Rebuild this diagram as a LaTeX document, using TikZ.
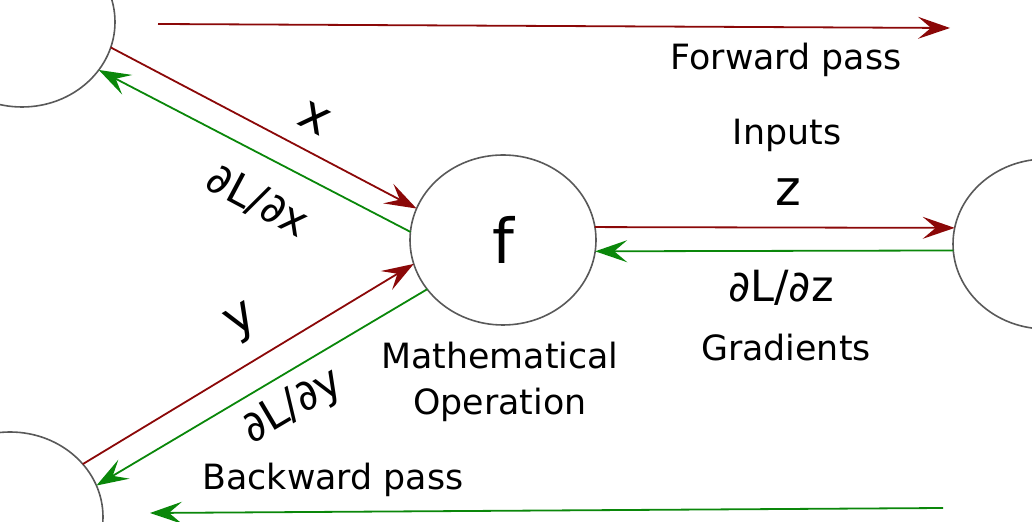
\documentclass[tikz,border=0pt]{standalone}
\usepackage{fontspec}
\setmainfont{DejaVu Sans}
\usetikzlibrary{shapes.geometric,arrows.meta}
\definecolor{fwd}{RGB}{139,8,8}
\definecolor{bwd}{RGB}{10,135,10}
\begin{document}
\begin{tikzpicture}[x=0.5pt,y=-0.5pt,
  neuron/.style={ellipse,draw=black!65,line width=0.8pt,minimum width=93pt,minimum height=85pt,inner sep=0pt,outer sep=0pt},
  tip/.style={-{Stealth[length=16pt,width=11pt,inset=6.5pt]}},
  fwdline/.style={tip,draw=fwd,line width=0.9pt},
  bwdline/.style={tip,draw=bwd,line width=0.9pt},
  txt/.style={font=\fontsize{17.4}{23}\selectfont,inner sep=0pt,align=center},
  var/.style={font=\fontsize{24.5}{28}\selectfont,inner sep=0pt},
  grad/.style={font=\fontsize{21.5}{24}\selectfont,inner sep=0pt}]
\useasboundingbox (0,0) rectangle (1032,522);
% neurons
\node[neuron] (tl) at (22,22) {};
\node[neuron] (bl) at (10,517) {};
\node[neuron] (r) at (1046,244) {};
\node[neuron,font=\fontsize{31}{36}\selectfont] (f) at (503,240) {f};
% long pass arrows
\coordinate (fs) at (158,24);
\coordinate (fe) at (950,28);
\coordinate (bs) at (943,508);
\coordinate (be) at (150,513);
\draw[fwdline] (fs) -- (fe);
\draw[bwdline] (bs) -- (be);
% connectors
\draw[fwdline] (tl.-16.3) -- (f.160);
\draw[bwdline] (f.175.8) -- (tl.-32.7);
\draw[fwdline] (bl.36.9) -- (f.195.9);
\draw[bwdline] (f.213.3) -- (bl.20.8);
\draw[fwdline] (f.8.5) -- (r.170.2);
\draw[bwdline] (r.184.9) -- (f.-7.4);
% labels
\node[txt] (lfwd) at (786,60) {Forward pass};
\node[txt] (linp) at (787,135) {Inputs};
\node[var] (lz) at (788,192) {z};
\node[grad] (ldz) at (781,288) {∂L/∂z};
\node[txt] (lgrad) at (786,348) {Gradients};
\node[txt] (lmath) at (500,382) {Mathematical\\Operation};
\node[txt] (lback) at (333,480) {Backward pass};
\node[var,rotate=-28] (lx) at (315,118) {x};
\node[grad,rotate=-28] (ldx) at (258,201) {∂L/∂x};
\node[var,rotate=30.6] (ly) at (243,323) {y};
\node[grad,rotate=30.6] (ldy) at (293,407) {∂L/∂y};
\end{tikzpicture}
\end{document}
